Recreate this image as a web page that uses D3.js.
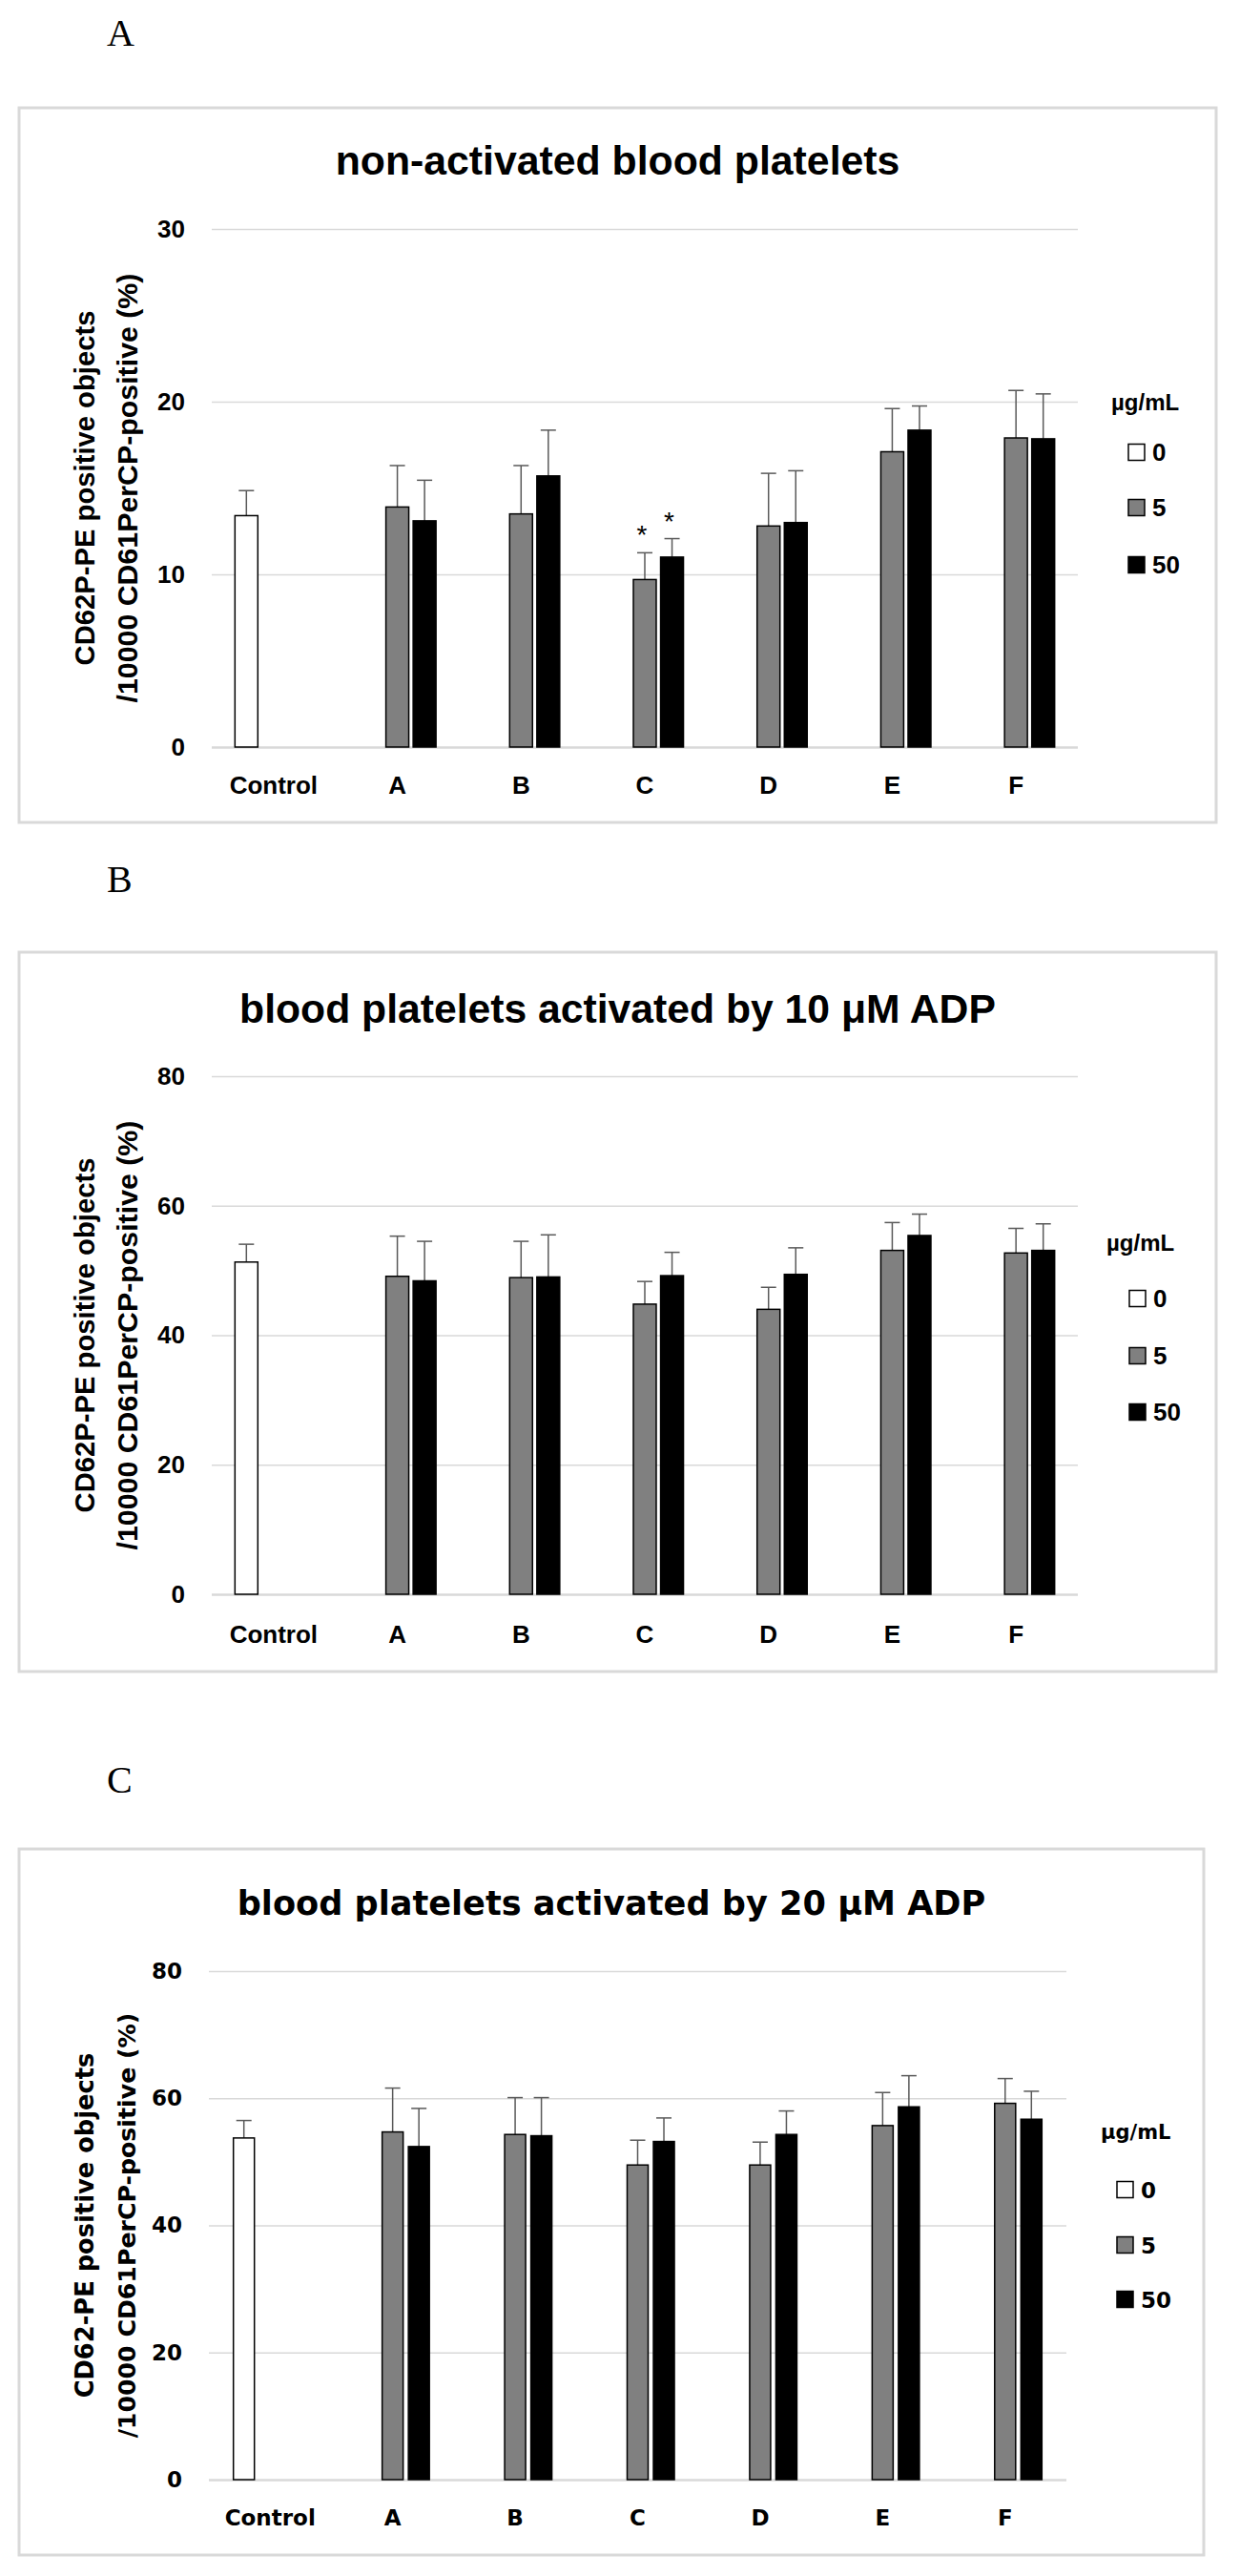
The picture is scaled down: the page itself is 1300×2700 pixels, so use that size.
<!DOCTYPE html>
<html>
<head>
<meta charset="utf-8">
<script src="https://cdn.jsdelivr.net/npm/d3@7"></script>
<style>
  body { margin: 0; background: #fff; }
</style>
</head>
<body>
<div id="chart"></div>
<script>
// categories and doses shared by the three panels
const categories = ["Control", "A", "B", "C", "D", "E", "F"];
const doses = ["0", "5", "50"];
const ticksA = [0, 10, 20, 30];
const ticksBC = [0, 20, 40, 60, 80];

// panel A: non-activated
const controlA = 13.4, controlErrA = 1.45;
const meanA5 = [13.9, 13.5, 9.7, 12.8, 17.1, 17.9];
const errA5 = [2.4, 2.8, 1.55, 3.05, 2.5, 2.75];
const meanA50 = [13.1, 15.7, 11.0, 13.0, 18.35, 17.85];
const errA50 = [2.35, 2.65, 1.07, 3.0, 1.4, 2.6];
const starsA = [["C", "5"], ["C", "50"]];

// panel B: 10 uM ADP
const controlB = 51.3, controlErrB = 2.75;
const meanB5 = [49.1, 48.9, 44.8, 44.0, 53.1, 52.7];
const errB5 = [6.2, 5.6, 3.5, 3.4, 4.3, 3.8];
const meanB50 = [48.4, 49.0, 49.2, 49.4, 55.4, 53.1];
const errB50 = [6.1, 6.5, 3.6, 4.1, 3.3, 4.1];

// panel C: 20 uM ADP
const controlC = 53.75, controlErrC = 2.75;
const meanC5 = [54.7, 54.3, 49.5, 49.5, 55.7, 59.2];
const errC5 = [6.9, 5.8, 3.9, 3.6, 5.2, 3.9];
const meanC50 = [52.4, 54.1, 53.2, 54.3, 58.65, 56.7];
const errC50 = [6.0, 6.0, 3.7, 3.7, 4.9, 4.4];

const fills = { "0": "#ffffff", "5": "#808080", "50": "#000000" };

function buildRows(ctrl, ctrlErr, m5, e5, m50, e50) {
  let rows = [{ cat: "Control", dose: "0", mean: ctrl, err: ctrlErr }];
  categories.slice(1).forEach((c, i) => {
    rows.push({ cat: c, dose: "5", mean: m5[i], err: e5[i] });
    rows.push({ cat: c, dose: "50", mean: m50[i], err: e50[i] });
  });
  return rows;
}

const svg = d3.select("#chart").append("svg")
  .attr("width", 1300)
  .attr("height", 2700);

// shrink/grow font size so a text spans the width
function fit(sel, w) {
  let len = sel.node().getComputedTextLength();
  if (len > 0) {
    let fs = parseFloat(sel.attr("font-size"));
    sel.attr("font-size", fs * w / len);
  }
}

function drawPanel(p) {
  let g = svg.append("g");

  g.append("rect")
    .attr("x", p.frame[0]).attr("y", p.frame[1])
    .attr("width", p.frame[2]).attr("height", p.frame[3])
    .attr("fill", "#fff").attr("stroke", "#d9d9d9").attr("stroke-width", 3);

  g.append("text")
    .attr("x", 112).attr("y", p.letterY)
    .attr("font-family", "Liberation Serif, Times New Roman, serif")
    .attr("font-size", 40)
    .text(p.letter);

  let title = g.append("text")
    .attr("x", p.frame[0] + p.frame[2] / 2).attr("y", p.titleY)
    .attr("text-anchor", "middle")
    .attr("font-family", p.font).attr("font-weight", "bold")
    .attr("font-size", p.titleSize)
    .text(p.title);
  fit(title, p.titleW);

  let x0 = d3.scaleBand()
    .domain(categories)
    .range([p.left, p.right])
    .paddingInner(p.pad)
    .paddingOuter(p.pad / 2);

  let x1 = d3.scaleBand()
    .domain(doses)
    .range([0, x0.bandwidth()])
    .paddingInner(p.subPad);

  let y = d3.scaleLinear()
    .domain([0, d3.max(p.ticks)])
    .range([p.bottom, p.top]);

  let yAxis = g.append("g")
    .attr("transform", "translate(" + p.left + ",0)")
    .call(d3.axisLeft(y).tickValues(p.ticks).tickSize(-(p.right - p.left)).tickPadding(28));
  yAxis.select(".domain").remove();
  yAxis.selectAll("line")
    .attr("stroke", "#d9d9d9")
    .attr("stroke-width", d => d === 0 ? 2.5 : 1.5);
  yAxis.selectAll("text")
    .attr("font-family", p.font).attr("font-weight", "bold")
    .attr("font-size", p.tickSize).attr("fill", "#000");

  let xAxis = g.append("g")
    .attr("transform", "translate(0," + p.bottom + ")")
    .call(d3.axisBottom(x0).tickSize(0));
  xAxis.select(".domain").remove();
  xAxis.selectAll("text")
    .attr("y", p.catY - p.bottom).attr("dy", null)
    .attr("font-family", p.font).attr("font-weight", "bold")
    .attr("font-size", p.tickSize).attr("fill", "#000");

  // y axis title, two lines
  let cy = (p.top + p.bottom) / 2;
  p.yTitle.forEach((line, i) => {
    let t = g.append("text")
      .attr("transform", "translate(" + p.yTitleX[i] + "," + cy + ") rotate(-90)")
      .attr("text-anchor", "middle")
      .attr("font-family", p.font).attr("font-weight", "bold")
      .attr("font-size", 28)
      .text(line);
    fit(t, p.yTitleW[i]);
  });

  let bx = d => x0(d.cat) + x1(d.dose);
  let bw = x1.bandwidth();

  // error bars (upper only)
  let eb = g.selectAll(".err").data(p.rows).enter().append("g");
  eb.append("line")
    .attr("x1", d => bx(d) + bw / 2).attr("x2", d => bx(d) + bw / 2)
    .attr("y1", d => y(d.mean)).attr("y2", d => y(d.mean + d.err))
    .attr("stroke", "#595959").attr("stroke-width", 1.5);
  eb.append("line")
    .attr("x1", d => bx(d) + bw / 2 - 8).attr("x2", d => bx(d) + bw / 2 + 8)
    .attr("y1", d => y(d.mean + d.err)).attr("y2", d => y(d.mean + d.err))
    .attr("stroke", "#595959").attr("stroke-width", 1.5);

  g.selectAll(".bar").data(p.rows).enter().append("rect")
    .attr("class", "bar")
    .attr("x", bx)
    .attr("width", bw)
    .attr("y", d => y(d.mean))
    .attr("height", d => p.bottom - y(d.mean))
    .attr("fill", d => fills[d.dose])
    .attr("stroke", "#000").attr("stroke-width", 1.5);

  // significance stars
  p.stars.forEach(s => {
    let d = p.rows.find(r => r.cat === s[0] && r.dose === s[1]);
    g.append("text")
      .attr("x", bx(d) + bw / 2 - 3)
      .attr("y", y(d.mean + d.err) - 9)
      .attr("text-anchor", "middle")
      .attr("font-family", "Liberation Sans, Arial, sans-serif")
      .attr("font-size", 28)
      .text("*");
  });

  // legend
  g.append("text")
    .attr("x", p.legX).attr("y", p.legHeadY)
    .attr("font-family", p.font).attr("font-weight", "bold")
    .attr("font-size", p.legHeadSize)
    .text("µg/mL");
  let li = g.selectAll(".leg").data(doses).enter().append("g");
  li.append("rect")
    .attr("x", p.legBoxX).attr("y", (d, i) => p.legY[i] - 8.5)
    .attr("width", 17).attr("height", 17)
    .attr("fill", d => fills[d])
    .attr("stroke", "#000").attr("stroke-width", 1.5);
  li.append("text")
    .attr("x", p.legBoxX + 25).attr("y", (d, i) => p.legY[i] + 9)
    .attr("font-family", p.font).attr("font-weight", "bold")
    .attr("font-size", p.tickSize)
    .text(d => d);
}

const calibri = "Liberation Sans, Arial, sans-serif";
const verdana = "DejaVu Sans, Verdana, sans-serif";

drawPanel({
  letter: "A", letterY: 48,
  frame: [20, 113, 1255, 749],
  font: calibri,
  title: "non-activated blood platelets", titleY: 183, titleSize: 43, titleW: 592,
  left: 222, right: 1130, top: 240, bottom: 783, catY: 832,
  pad: 0.375, subPad: 0.16,
  ticks: ticksA, tickSize: 26,
  yTitle: ["CD62P-PE positive objects", "/10000 CD61PerCP-positive (%)"],
  yTitleX: [99, 143.5], yTitleW: [372, 450],
  rows: buildRows(controlA, controlErrA, meanA5, errA5, meanA50, errA50),
  stars: starsA,
  legX: 1165, legHeadY: 430, legHeadSize: 24, legBoxX: 1183, legY: [474, 532, 592]
});

drawPanel({
  letter: "B", letterY: 935,
  frame: [20, 998, 1255, 754],
  font: calibri,
  title: "blood platelets activated by 10 μM ADP", titleY: 1072, titleSize: 43, titleW: 793,
  left: 222, right: 1130, top: 1128, bottom: 1671, catY: 1722,
  pad: 0.375, subPad: 0.16,
  ticks: ticksBC, tickSize: 26,
  yTitle: ["CD62P-PE positive objects", "/10000 CD61PerCP-positive (%)"],
  yTitleX: [99, 143.5], yTitleW: [372, 450],
  rows: buildRows(controlB, controlErrB, meanB5, errB5, meanB50, errB50),
  stars: [],
  legX: 1160, legHeadY: 1311, legHeadSize: 24, legBoxX: 1184, legY: [1361, 1421, 1480]
});

drawPanel({
  letter: "C", letterY: 1879,
  frame: [20, 1938, 1242, 740],
  font: verdana,
  title: "blood platelets activated by 20 μM ADP", titleY: 2007, titleSize: 36, titleW: 785,
  left: 219, right: 1118, top: 2066, bottom: 2599, catY: 2647,
  pad: 0.40, subPad: 0.2,
  ticks: ticksBC, tickSize: 23,
  yTitle: ["CD62-PE positive objects", "/10000 CD61PerCP-positive (%)"],
  yTitleX: [98, 142], yTitleW: [362, 446],
  rows: buildRows(controlC, controlErrC, meanC5, errC5, meanC50, errC50),
  stars: [],
  legX: 1154, legHeadY: 2242, legHeadSize: 21, legBoxX: 1171, legY: [2295, 2353, 2410]
});
</script>
</body>
</html>
